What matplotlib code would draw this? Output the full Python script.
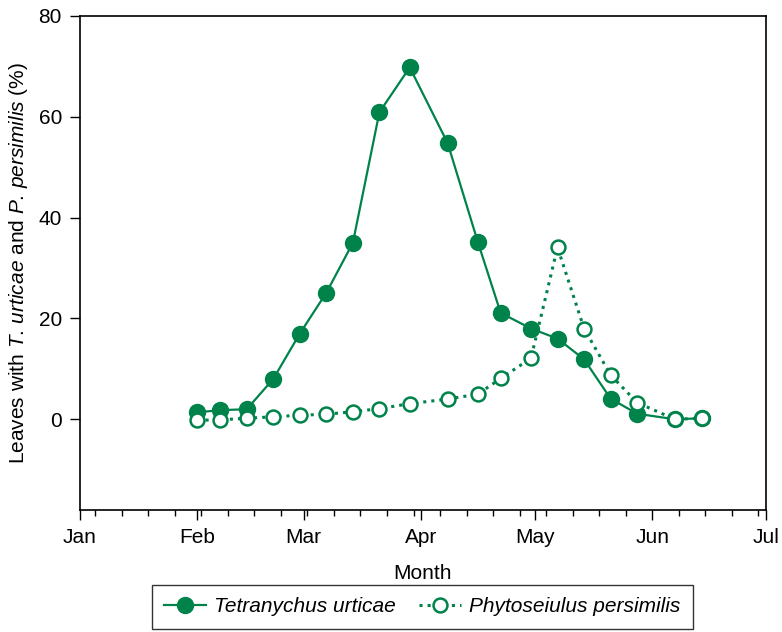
import matplotlib
matplotlib.use("Agg")
import matplotlib.pyplot as plt
from matplotlib.ticker import FixedLocator

plt.rcParams['font.family'] = ['Liberation Sans', 'DejaVu Sans']
plt.rcParams['mathtext.fontset'] = 'custom'
plt.rcParams['mathtext.rm'] = 'Liberation Sans'
plt.rcParams['mathtext.it'] = 'Liberation Sans:italic'

# day of year (Jan 1 = 0) of each sampling date
days = [31, 37, 44, 51, 58, 65, 72, 79, 87, 97, 105, 111, 119, 126, 133, 140, 147, 157, 164]
# % leaves with Tetranychus urticae
urticae = [1.4, 1.8, 2.0, 8.0, 17.0, 25.1, 35.0, 60.9, 69.8, 54.8, 35.1, 21.1, 18.0, 16.0, 11.9, 4.1, 1.1, 0.0, 0.2]
# % leaves with Phytoseiulus persimilis
persimilis = [-0.2, -0.1, 0.2, 0.5, 0.8, 1.0, 1.5, 2.1, 3.1, 4.0, 5.0, 8.1, 12.1, 34.1, 18.0, 8.8, 3.3, 0.0, 0.2]

month_days = [0, 31, 59, 90, 120, 151, 181]
month_names = ['Jan', 'Feb', 'Mar', 'Apr', 'May', 'Jun', 'Jul']
week_days = list(range(4, 181, 7))

green = '#00834A'
fs = 15

fig = plt.figure(figsize=(7.82, 6.32), dpi=100)
ax = fig.add_axes([0.1023, 0.193, 0.8772, 0.7817])

ax.plot(days, urticae, '-', color=green, lw=1.6, marker='o', ms=11.5,
        mfc=green, mec=green, label='Tetranychus urticae', zorder=3)
ax.plot(days, persimilis, ':', color=green, lw=2.2, marker='o', ms=10,
        mfc='white', mec=green, mew=1.8, label='Phytoseiulus persimilis', zorder=4)

ax.set_xlim(0, 181)
ax.set_ylim(-18, 80)
ax.set_xticks(month_days)
ax.set_xticklabels(month_names)
ax.xaxis.set_minor_locator(FixedLocator(week_days))
ax.set_yticks([0, 20, 40, 60, 80])

ax.tick_params(axis='both', which='major', direction='out', length=7, width=1,
               labelsize=fs, pad=6)
ax.tick_params(axis='x', which='minor', direction='out', length=4, width=1)
for s in ax.spines.values():
    s.set_linewidth(1.2)

ax.set_xlabel('Month', fontsize=fs, labelpad=12)
ax.set_ylabel(r'Leaves with $\mathit{T.\,urticae}$ and $\mathit{P.\,persimilis}$ (%)',
              fontsize=fs, labelpad=6)

leg = ax.legend(loc='upper center', bbox_to_anchor=(0.54, 0.0744),
                bbox_transform=fig.transFigure, ncol=2, frameon=True,
                fancybox=False, edgecolor='black',
                prop={'style': 'italic', 'size': fs}, handlelength=2.0,
                columnspacing=1.1, handletextpad=0.4, borderpad=0.6,
                borderaxespad=0)
leg.get_frame().set_linewidth(1.0)

fig.savefig('out.png', dpi=100)
